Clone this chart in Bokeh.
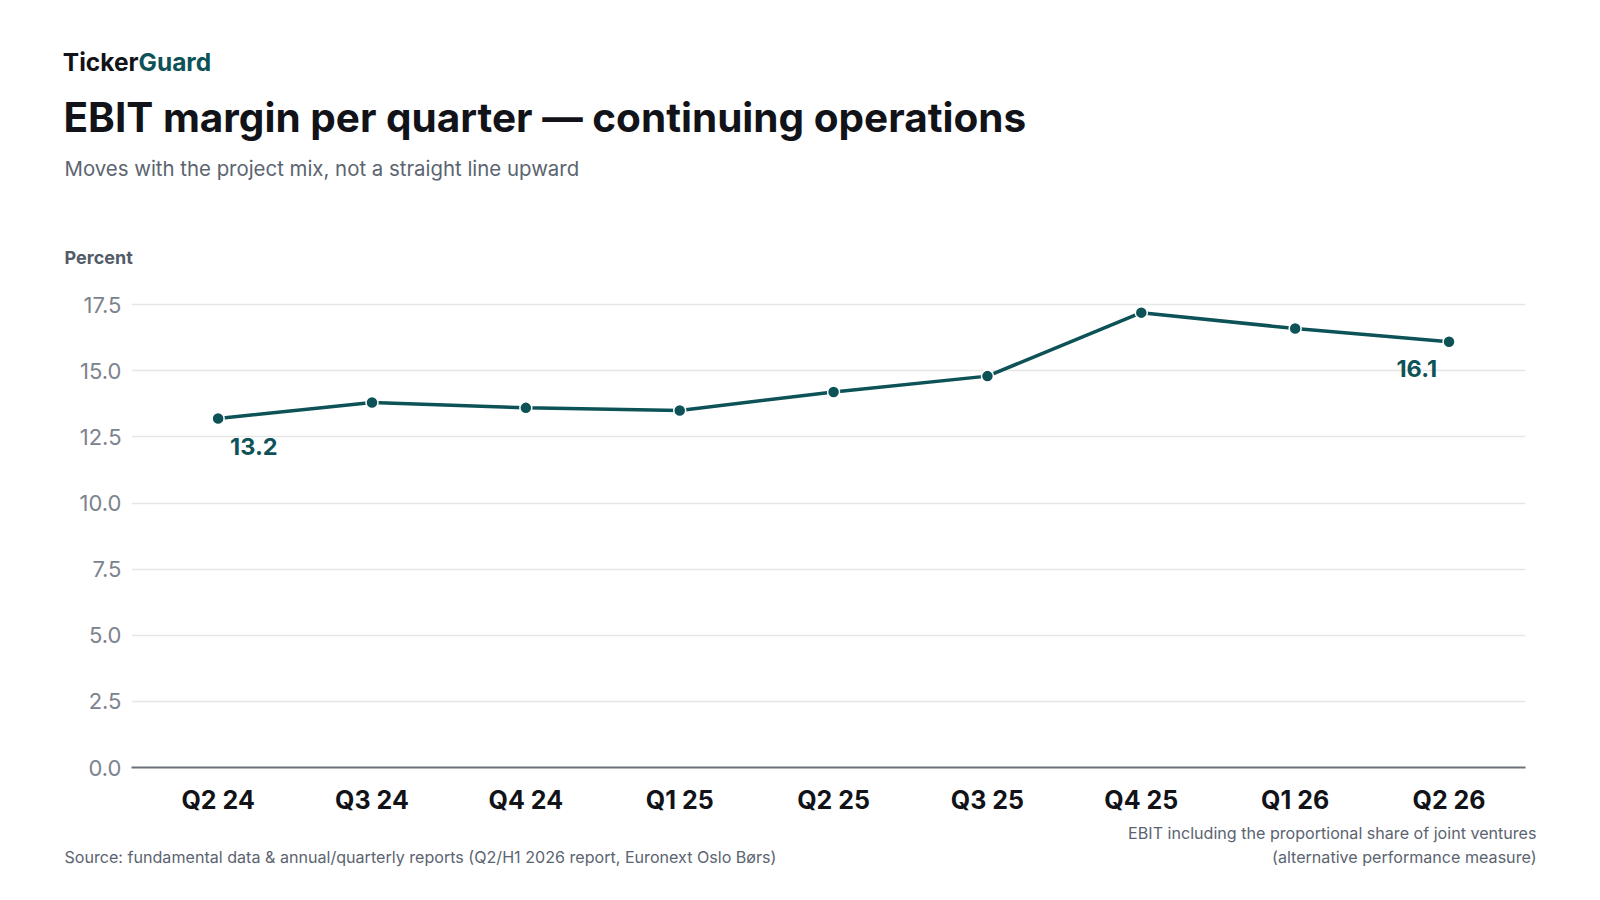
from bokeh.plotting import figure
from bokeh.models import Range1d, FixedTicker, ColumnDataSource
from bokeh.layouts import column
from bokeh.core.properties import value
from bokeh.embed import file_html
from bokeh.resources import INLINE

quarters = ["Q2 24", "Q3 24", "Q4 24", "Q1 25", "Q2 25", "Q3 25", "Q4 25", "Q1 26", "Q2 26"]
margin = [13.2, 13.8, 13.6, 13.5, 14.2, 14.8, 17.2, 16.6, 16.1]
y_ticks = [0.0, 2.5, 5.0, 7.5, 10.0, 12.5, 15.0, 17.5]
annot_idx = [0, 8]

brand_a = "Ticker"
brand_b = "Guard"
title = "EBIT margin per quarter \u2014 continuing operations"
subtitle = "Moves with the project mix, not a straight line upward"
y_label = "Percent"
source_note = "Source: fundamental data & annual/quarterly reports (Q2/H1 2026 report, Euronext Oslo B\u00f8rs)"
def_note = ["EBIT including the proportional share of joint ventures", "(alternative performance measure)"]

TEAL = "#0d5257"
INK = "#111318"
MUTED = "#5b6470"
FONT = "Inter"
W = 1584
HH, HM, HF = 275, 542, 63


def text_panel(h):
    f = figure(width=W, height=h, output_backend="svg", toolbar_location=None,
               x_range=Range1d(0, W), y_range=Range1d(h, 0),
               x_axis_type=None, y_axis_type=None, frame_align=False,
               min_border_left=0, min_border_right=0, min_border_top=0, min_border_bottom=0)
    f.outline_line_color = None
    f.xgrid.visible = False
    f.ygrid.visible = False
    return f


def put(f, txt, x, y, size, color, style="normal", align="left"):
    f.text(x=[x], y=[y], text=[txt], text_font=value(FONT), text_font_size=size,
           text_color=color, text_font_style=style, text_align=align,
           text_baseline="alphabetic")


# ---- header
head = text_panel(HH)
put(head, brand_a, 138, 61, "24.5px", INK, "bold", "right")
put(head, brand_b, 138, 61, "24.5px", TEAL, "bold")
put(head, title, 63, 117, "40.5px", INK, "bold")
put(head, subtitle, 64, 168, "20.4px", MUTED)
put(head, y_label, 64, 257, "18px", "#525b67", "bold")

# ---- main chart
idx = list(range(len(quarters)))
p = figure(width=W, height=HM, output_backend="svg", toolbar_location=None,
           x_range=Range1d(-0.563, 8.497), y_range=Range1d(0, 18), frame_align=False,
           min_border_left=131, min_border_right=59, min_border_top=16,
           min_border_bottom=50)
p.outline_line_color = None

p.xaxis.ticker = FixedTicker(ticks=idx)
p.xaxis.major_label_overrides = {i: q for i, q in enumerate(quarters)}
p.xaxis.major_tick_line_color = None
p.xaxis.minor_tick_line_color = None
p.xaxis.axis_line_color = "#6b7079"
p.xaxis.axis_line_width = 2
p.xaxis.major_label_text_font = FONT
p.xaxis.major_label_text_font_style = "bold"
p.xaxis.major_label_text_font_size = "25px"
p.xaxis.major_label_text_color = INK
p.xaxis.major_label_standoff = 11

p.yaxis.ticker = FixedTicker(ticks=y_ticks)
p.yaxis.major_label_overrides = {t: f"{t:.1f}" for t in y_ticks}
p.yaxis.axis_line_color = None
p.yaxis.major_tick_line_color = None
p.yaxis.minor_tick_line_color = None
p.yaxis.major_label_text_font = FONT
p.yaxis.major_label_text_font_size = "22px"
p.yaxis.major_label_text_color = "#7c838d"
p.yaxis.major_label_standoff = 4

p.xgrid.grid_line_color = None
p.ygrid.grid_line_color = "#e6e6e6"
p.ygrid.grid_line_width = 1.5
p.ygrid.ticker = FixedTicker(ticks=y_ticks[1:])

src = ColumnDataSource(dict(x=idx, y=margin))
p.line("x", "y", source=src, line_color=TEAL, line_width=3.5)
p.scatter("x", "y", source=src, size=12, fill_color=TEAL, line_color="white", line_width=1.5)

i0, i1 = annot_idx
p.text(x=[i0], y=[margin[i0]], text=[f"{margin[i0]:.1f}"], text_font=value(FONT),
       text_font_style="bold", text_font_size="23.5px", text_color=TEAL,
       text_align="left", text_baseline="top", x_offset=12, y_offset=20)
p.text(x=[i1], y=[margin[i1]], text=[f"{margin[i1]:.1f}"], text_font=value(FONT),
       text_font_style="bold", text_font_size="23.5px", text_color=TEAL,
       text_align="right", text_baseline="top", x_offset=-12, y_offset=18)

# ---- footer
foot = text_panel(HF)
put(foot, source_note, 64, 39, "16.1px", MUTED)
put(foot, def_note[0], 1536, 15, "16.1px", MUTED, align="right")
put(foot, def_note[1], 1536, 39, "16.1px", MUTED, align="right")

layout = column(head, p, foot, spacing=0)
open("out.html", "w").write(file_html(layout, INLINE))
